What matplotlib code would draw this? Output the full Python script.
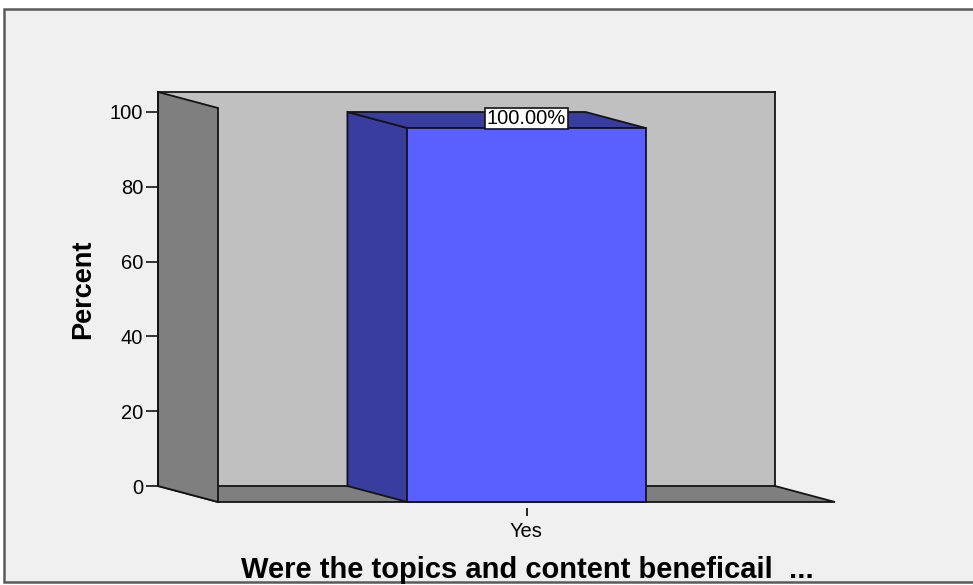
import matplotlib
matplotlib.use("Agg")
import matplotlib.pyplot as plt
from matplotlib.patches import Polygon, Rectangle

plt.rcParams['font.family'] = ['Liberation Sans', 'DejaVu Sans']

# data
categories = ['Yes']
percent = [100.0]
bar_labels = ['100.00%']
yticks = [0, 20, 40, 60, 80, 100]
x_title = 'Were the topics and content beneficail  ...'
y_title = 'Percent'

W, H = 973, 585
fig = plt.figure(figsize=(W / 100, H / 100), dpi=100)
fig.patch.set_facecolor('white')

# outer chart frame (SPSS style)
fig.add_artist(Rectangle((4 / W, 3 / H), 1.2, (576 - 3) / H, transform=fig.transFigure,
                         facecolor='#F0F0F0', edgecolor='#5a5a5a', linewidth=1.8, zorder=0))

# back wall of the 3d box
left, right, top, bottom = 158, 775, 92, 486
ax = fig.add_axes([left / W, (H - bottom) / H, (right - left) / W, (bottom - top) / H])
ymax = 100 * (bottom - top) / (bottom - 112)
ax.set_xlim(-0.5, 0.5)
ax.set_ylim(0, ymax)
ax.set_facecolor('#C0C0C0')

depth_x, depth_y = 60, 16  # pixels
ddx = depth_x / (right - left) * 1.0
ddy = depth_y / (bottom - top) * ymax

edge = '#141414'
wall = '#7F7F7F'
lw = 1.3

# floor and left wall
floor = Polygon([(-0.5, 0), (0.5, 0), (0.5 + ddx, -ddy), (-0.5 + ddx, -ddy)],
                closed=True, facecolor=wall, edgecolor=edge, linewidth=lw, clip_on=False, zorder=1)
ax.add_patch(floor)
lwall = Polygon([(-0.5, 0), (-0.5, ymax), (-0.5 + ddx, ymax - ddy), (-0.5 + ddx, -ddy)],
                closed=True, facecolor=wall, edgecolor=edge, linewidth=lw, clip_on=False, zorder=1.5)
ax.add_patch(lwall)

# bars
bw = 0.386
front_col = '#5A5FFF'
side_col = '#3A3DA0'
for i, (cat, v, lab) in enumerate(zip(categories, percent, bar_labels)):
    x0, x1 = i - bw / 2, i + bw / 2
    side = Polygon([(x0, 0), (x0, v), (x0 + ddx, v - ddy), (x0 + ddx, -ddy)],
                   closed=True, facecolor=side_col, edgecolor=edge, linewidth=lw, clip_on=False, zorder=4)
    topf = Polygon([(x0, v), (x1, v), (x1 + ddx, v - ddy), (x0 + ddx, v - ddy)],
                   closed=True, facecolor=side_col, edgecolor=edge, linewidth=lw, clip_on=False, zorder=4)
    ax.add_patch(side)
    ax.add_patch(topf)
    ax.bar(i + ddx, v, width=bw, bottom=-ddy, color=front_col, edgecolor=edge,
           linewidth=lw, clip_on=False, zorder=5)
    ax.text(i + ddx, v - ddy, lab, ha='center', va='bottom', fontsize=14.5, zorder=6,
            bbox=dict(boxstyle='square,pad=0.07', facecolor='white', edgecolor=edge, linewidth=1.2))

# axes styling
for s in ['top', 'right', 'left']:
    ax.spines[s].set_color(edge)
    ax.spines[s].set_linewidth(lw)
ax.spines['bottom'].set_position(('outward', depth_y))
ax.spines['bottom'].set_visible(False)

ax.set_yticks(yticks)
ax.tick_params(axis='y', length=8.6, width=1.2, pad=2, labelsize=14.5, color=edge)
ax.set_xticks([i + ddx for i in range(len(categories))])
ax.set_xticklabels(categories)
ax.tick_params(axis='x', length=6, width=1.3, pad=4, labelsize=14.5, color=edge)

fig.text(83 / W, (H - 289) / H, y_title, rotation=90, fontsize=19.5, fontweight='bold',
         ha='center', va='center')
fig.text(527 / W, (H - 578) / H, x_title, fontsize=21, fontweight='bold',
         ha='center', va='baseline')

fig.savefig('out.png', dpi=100, facecolor=fig.get_facecolor())
